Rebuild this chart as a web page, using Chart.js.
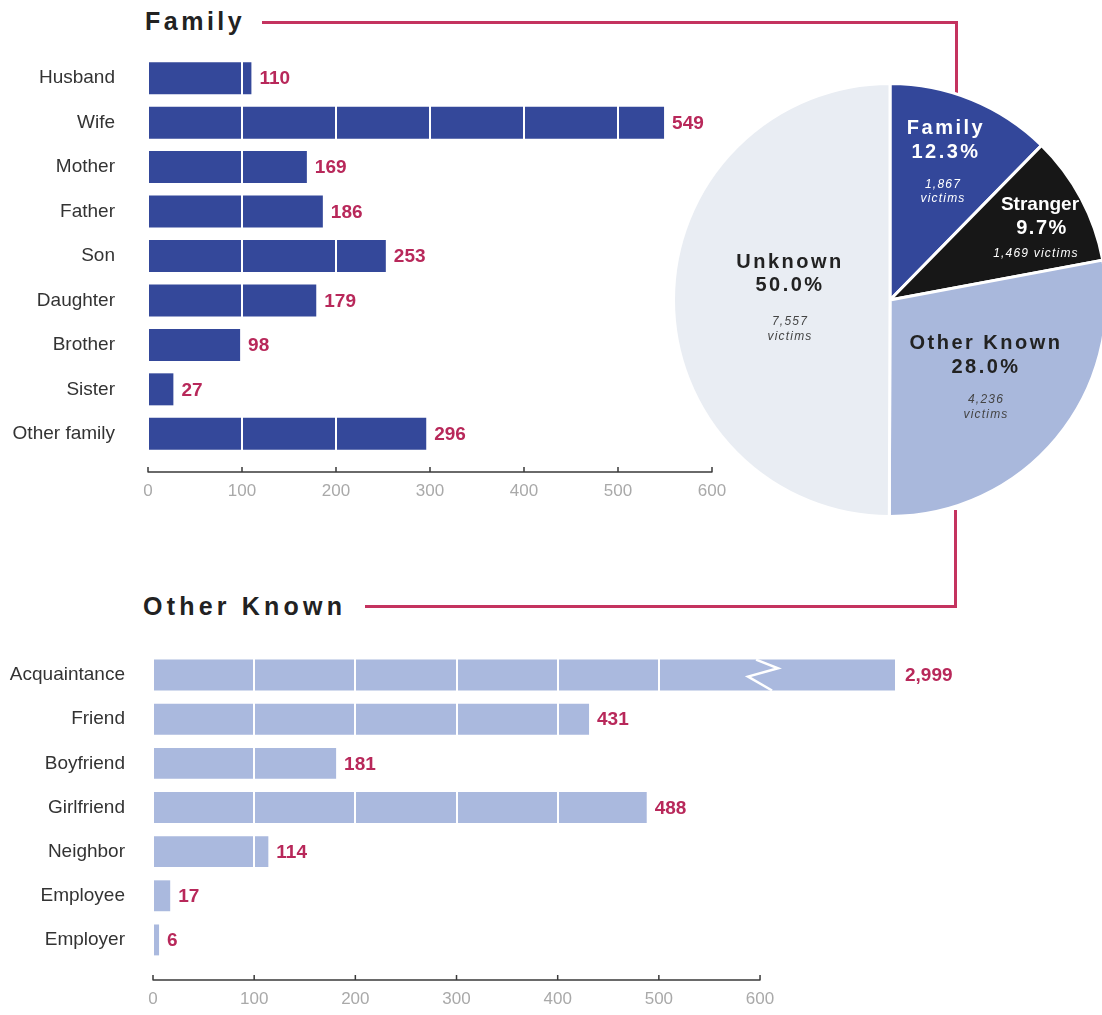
<!DOCTYPE html>
<html>
<head>
<meta charset="utf-8">
<script src="https://cdn.jsdelivr.net/npm/chart.js@4"></script>
<style>
  html, body { margin: 0; padding: 0; background: #fff; overflow: hidden; }
  body { width: 1102px; height: 1015px; position: relative; font-family: 'Liberation Sans', Arial, sans-serif; }
  .box { position: absolute; }
  .title { position: absolute; font-weight: bold; font-size: 25px; color: #222; line-height: 1; }
  .rule { position: absolute; background: #c4335f; }
</style>
</head>
<body>

<div class="title" style="left:145px; top:9px; letter-spacing:3.5px;">Family</div>
<div class="rule" style="left:262px; top:21px; width:696px; height:3px;"></div>
<div class="rule" style="left:955px; top:21px; width:3px; height:72px;"></div>

<div class="title" style="left:143px; top:594px; letter-spacing:4.2px;">Other Known</div>
<div class="rule" style="left:365px; top:605px; width:592px; height:3px;"></div>
<div class="rule" style="left:954px; top:510px; width:3px; height:98px;"></div>

<div class="box" style="left:0; top:40px; width:760px; height:480px;"><canvas id="familyChart"></canvas></div>
<div class="box" style="left:670px; top:80px; width:440px; height:440px;"><canvas id="pieChart"></canvas></div>
<div class="box" style="left:0; top:630px; width:1000px; height:385px;"><canvas id="knownChart"></canvas></div>

<script>
// Data
const familyLabels = ['Husband', 'Wife', 'Mother', 'Father', 'Son', 'Daughter', 'Brother', 'Sister', 'Other family'];
const familyValues = [110, 549, 169, 186, 253, 179, 98, 27, 296];

const knownLabels = ['Acquaintance', 'Friend', 'Boyfriend', 'Girlfriend', 'Neighbor', 'Employee', 'Employer'];
const knownValues = [2999, 431, 181, 488, 114, 17, 6];

const pieLabels = ['Family', 'Stranger', 'Other Known', 'Unknown'];
const pieVictims = [1867, 1469, 4236, 7557];
const piePercents = ['12.3%', '9.7%', '28.0%', '50.0%'];

const axisTicks = [0, 100, 200, 300, 400, 500, 600];

const SANS = "'Liberation Sans', Arial, sans-serif";
const CRIMSON = '#b8285a';

/**
 * Value labels at the end of each bar (drawn after the white grid layer)
 */
const valueLabels = {
    id: 'valueLabels',
    afterDraw(chart) {
        const ctx = chart.ctx;
        const area = chart.chartArea;
        const meta = chart.getDatasetMeta(0);
        const data = chart.data.datasets[0].data;
        ctx.save();
        ctx.font = 'bold 19px ' + SANS;
        ctx.fillStyle = CRIMSON;
        ctx.textBaseline = 'middle';
        meta.data.forEach((bar, i) => {
            const end = Math.min(bar.x, area.right);
            const gap = bar.x > area.right ? 10 : 8;
            ctx.fillText(data[i].toLocaleString('en-US'), end + gap, bar.y + 1);
        });
        ctx.restore();
    }
};

/**
 * Axis line with small upward ticks, drawn below the bars
 */
const axisLine = {
    id: 'axisLine',
    afterDraw(chart, args, opts) {
        const x = chart.scales.x;
        const ctx = chart.ctx;
        const y = chart.chartArea.bottom + opts.offset;
        ctx.save();
        ctx.strokeStyle = '#3a3a3a';
        ctx.lineWidth = 1.5;
        ctx.beginPath();
        ctx.moveTo(x.getPixelForValue(0), y);
        ctx.lineTo(x.getPixelForValue(600), y);
        axisTicks.forEach(v => {
            const px = x.getPixelForValue(v);
            ctx.moveTo(px, y + 0.5);
            ctx.lineTo(px, y - 5);
        });
        ctx.stroke();
        ctx.restore();
    }
};

/**
 * Zigzag break on the bar that runs off the scale
 */
const barBreak = {
    id: 'barBreak',
    afterDraw(chart) {
        const area = chart.chartArea;
        const meta = chart.getDatasetMeta(0);
        const x0 = chart.scales.x.getPixelForValue(600);
        const ctx = chart.ctx;
        meta.data.forEach(bar => {
            if (bar.x <= area.right) return;
            const top = bar.y - bar.height / 2;
            const h = bar.height;
            ctx.save();
            ctx.strokeStyle = '#ffffff';
            ctx.lineWidth = 2.5;
            ctx.beginPath();
            ctx.moveTo(x0 - 4, top);
            ctx.lineTo(x0 + 18, top + h * 0.28);
            ctx.lineTo(x0 - 12, top + h * 0.55);
            ctx.lineTo(x0 + 12, top + h);
            ctx.stroke();
            ctx.restore();
        });
    }
};

function barOptions(opts) {
    return {
        responsive: true,
        maintainAspectRatio: false,
        animation: false,
        indexAxis: 'y',
        layout: { padding: { top: opts.padTop, right: opts.padRight, left: 0, bottom: 0 } },
        plugins: {
            legend: { display: false },
            tooltip: { enabled: false },
            axisLine: { offset: opts.axisOffset }
        },
        scales: {
            x: {
                min: 0,
                max: opts.max,
                afterFit: s => { s.height = opts.xHeight; },
                afterBuildTicks: s => { s.ticks = axisTicks.map(v => ({ value: v })); },
                grid: {
                    z: 1,
                    drawTicks: false,
                    lineWidth: 2,
                    color: c => (c.tick && (c.tick.value === 0 || c.tick.value === 600)) ? 'rgba(0,0,0,0)' : '#ffffff'
                },
                border: { display: false },
                ticks: {
                    padding: opts.tickPad,
                    color: '#a9a9a9',
                    font: { family: SANS, size: 17 },
                    maxRotation: 0,
                    autoSkip: false
                }
            },
            y: {
                afterFit: s => { s.width = opts.yWidth; },
                grid: { display: false, drawTicks: true, tickLength: opts.yPad },
                border: { display: false },
                ticks: {
                    padding: 0,
                    color: '#333333',
                    font: { family: SANS, size: 19 }
                }
            }
        }
    };
}

// Family bars
new Chart(document.getElementById('familyChart'), {
    type: 'bar',
    data: {
        labels: familyLabels,
        datasets: [{
            data: familyValues,
            backgroundColor: '#34489a',
            barPercentage: 0.72,
            categoryPercentage: 1
        }]
    },
    options: barOptions({ padTop: 16, padRight: 48, max: 600, xHeight: 64, tickPad: 25, yWidth: 148, yPad: 33, axisOffset: 16 }),
    plugins: [valueLabels, axisLine]
});

// Other Known bars
new Chart(document.getElementById('knownChart'), {
    type: 'bar',
    data: {
        labels: knownLabels,
        datasets: [{
            data: knownValues,
            backgroundColor: '#aab9de',
            barPercentage: 0.70,
            categoryPercentage: 1
        }]
    },
    options: barOptions({ padTop: 23, padRight: 105, max: 733.4, xHeight: 53, tickPad: 27, yWidth: 153, yPad: 28, axisOffset: 18 }),
    plugins: [valueLabels, axisLine, barBreak]
});

/**
 * Text inside the pie slices
 */
const pieText = {
    id: 'pieText',
    afterDatasetsDraw(chart) {
        const ctx = chart.ctx;
        const arc = chart.getDatasetMeta(0).data[0];
        const cx = arc.x, cy = arc.y;
        const bold = (size, spacing) => { ctx.font = 'bold ' + size + 'px ' + SANS; ctx.letterSpacing = spacing + 'px'; };
        const ital = () => { ctx.font = 'italic 12px ' + SANS; ctx.letterSpacing = '1.2px'; };
        const put = (t, dx, dy) => ctx.fillText(t, cx + dx, cy + dy);
        const victims = n => n.toLocaleString('en-US');

        ctx.save();
        ctx.textAlign = 'center';
        ctx.textBaseline = 'middle';

        // Family
        ctx.fillStyle = '#ffffff';
        bold(20, 2.5); put(pieLabels[0], 56, -172); put(piePercents[0], 56, -148);
        ital(); put(victims(pieVictims[0]), 53, -115); put('victims', 53, -101);

        // Stranger
        bold(19, 0); put(pieLabels[1], 150, -95);
        bold(20, 1.5); put(piePercents[1], 152, -72);
        ital(); put(victims(pieVictims[1]) + ' victims', 146, -46);

        // Other Known
        ctx.fillStyle = '#222222';
        bold(20, 2.5); put(pieLabels[2], 96, 43); put(piePercents[2], 96, 67);
        ctx.fillStyle = '#444444';
        ital(); put(victims(pieVictims[2]), 96, 100); put('victims', 96, 115);

        // Unknown
        ctx.fillStyle = '#222222';
        bold(20, 2.5); put(pieLabels[3], -100, -38); put(piePercents[3], -100, -15);
        ctx.fillStyle = '#444444';
        ital(); put(victims(pieVictims[3]), -100, 22); put('victims', -100, 37);

        ctx.restore();
    }
};

new Chart(document.getElementById('pieChart'), {
    type: 'pie',
    data: {
        labels: pieLabels,
        datasets: [{
            data: pieVictims,
            backgroundColor: ['#33479a', '#171717', '#a9b8dc', '#e9edf3'],
            borderColor: '#ffffff',
            borderWidth: 3
        }]
    },
    options: {
        responsive: true,
        maintainAspectRatio: false,
        animation: false,
        layout: { padding: 2 },
        plugins: {
            legend: { display: false },
            tooltip: { enabled: false }
        }
    },
    plugins: [pieText]
});
</script>
</body>
</html>
